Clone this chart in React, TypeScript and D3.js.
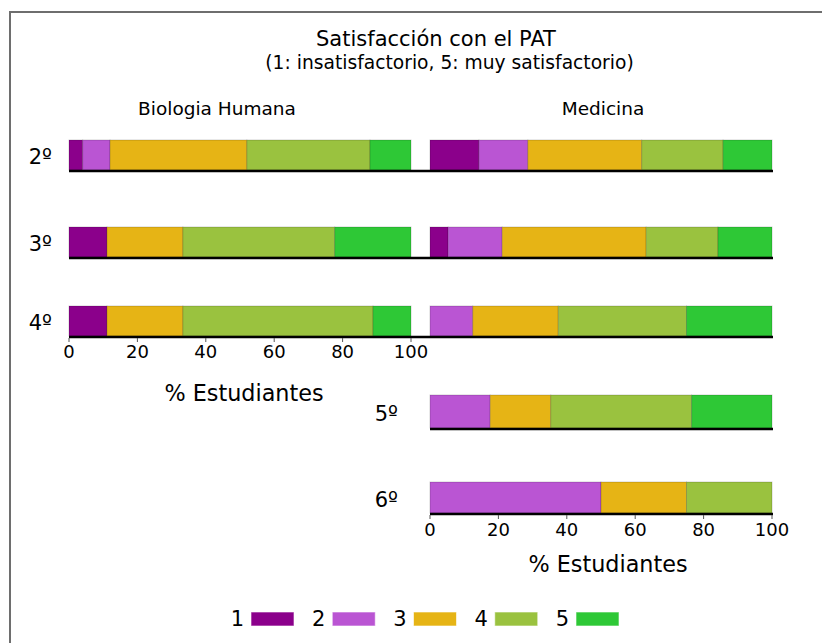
import React from "react";
import * as d3 from "d3";

const levels = ["1", "2", "3", "4", "5"];
const colors = ["#8b008b", "#ba55d3", "#e6b415", "#9ac23f", "#2ec836"];

const bioRows = ["2º", "3º", "4º"];
const bio2 = [4, 8, 40, 36, 12];
const bio3 = [11.1, 0, 22.2, 44.4, 22.3];
const bio4 = [11.1, 0, 22.2, 55.6, 11.1];

const medRows = ["2º", "3º", "4º", "5º", "6º"];
const med2 = [14.3, 14.3, 33.3, 23.8, 14.3];
const med3 = [5.3, 15.8, 42.1, 21.0, 15.8];
const med4 = [0, 12.5, 25, 37.5, 25];
const med5 = [0, 17.6, 17.7, 41.2, 23.5];
const med6 = [0, 50, 25, 25, 0];

const ticks = [0, 20, 40, 60, 80, 100];

const FONT = "DejaVu Sans, sans-serif";

function stackRow(vals: number[]) {
  let acc = 0;
  return vals.map((v, i) => {
    const s = { i, x0: acc, x1: acc + v };
    acc += v;
    return s;
  });
}

export default function App() {
  const xL = d3.scaleLinear().domain([0, 100]).range([69, 411]);
  const xR = d3.scaleLinear().domain([0, 100]).range([430, 772]);
  const rowKeys = ["2º", "3º", "4º", "5º", "6º"];
  const yRow = d3.scaleOrdinal<string, number>().domain(rowKeys).range([140, 227, 306, 395, 482]);
  const hRow = d3.scaleOrdinal<string, number>().domain(rowKeys).range([30, 30, 30, 33, 31]);

  const bioData = [bio2, bio3, bio4];
  const medData = [med2, med3, med4, med5, med6];

  const renderBar = (vals: number[], row: string, x: d3.ScaleLinear<number, number>, key: string) => {
    const y = yRow(row);
    const h = hRow(row);
    return (
      <g key={key}>
        {stackRow(vals).filter(s => s.x1 > s.x0).map(s => (
          <rect key={s.i} x={x(s.x0)} y={y} width={x(s.x1) - x(s.x0)} height={h}
            fill={colors[s.i]} stroke="#000" strokeOpacity={0.18} strokeWidth={1} />
        ))}
      </g>
    );
  };

  const legendX = d3.scaleLinear().domain([0, 4]).range([251, 576]);
  const base = (r: string) => yRow(r) + hRow(r) + 1;

  return (
    <div style={{ position: "absolute", left: 0, top: 0 }}>
      <svg width={822} height={643} style={{ display: "block" }} fontFamily={FONT}>
        <rect x={0} y={0} width={822} height={643} fill="#fff" />
        <rect x={10} y={12} width={900} height={900} fill="#fff" stroke="#6e6e6e" strokeWidth={2} />

        <text x={436} y={46} textAnchor="middle" fontSize={21} fill="#000">Satisfacción con el PAT</text>
        <text x={449.5} y={69} textAnchor="middle" fontSize={18.7} fill="#000">(1: insatisfactorio, 5: muy satisfactorio)</text>

        <text x={217} y={115} textAnchor="middle" fontSize={18.5} fill="#000">Biologia Humana</text>
        <text x={603} y={115} textAnchor="middle" fontSize={18.5} fill="#000">Medicina</text>

        {bioRows.map((r, i) => renderBar(bioData[i], r, xL, "b" + r))}
        {medRows.map((r, i) => renderBar(medData[i], r, xR, "m" + r))}

        {bioRows.map(r => (
          <line key={"lb" + r} x1={xL(0)} x2={xR(100) + 1} y1={base(r)} y2={base(r)} stroke="#000" strokeWidth={2.5} />
        ))}
        {["5º", "6º"].map(r => (
          <line key={"lm" + r} x1={xR(0)} x2={xR(100) + 1} y1={base(r)} y2={base(r)} stroke="#000" strokeWidth={2.5} />
        ))}

        {bioRows.map(r => (
          <text key={"rl" + r} x={52} y={yRow(r) + hRow(r) / 2 + 9} textAnchor="end" fontSize={21} fill="#000">{r}</text>
        ))}
        {["5º", "6º"].map(r => (
          <text key={"rr" + r} x={398} y={yRow(r) + hRow(r) / 2 + 9} textAnchor="end" fontSize={21} fill="#000">{r}</text>
        ))}

        {ticks.map(t => (
          <g key={"tl" + t}>
            <line x1={xL(t)} x2={xL(t)} y1={base("4º") + 1} y2={base("4º") + 5} stroke="#555" strokeWidth={1} />
            <text x={xL(t)} y={358} textAnchor="middle" fontSize={18} fill="#000">{t}</text>
          </g>
        ))}
        <text x={244} y={401} textAnchor="middle" fontSize={22.3} fill="#000">% Estudiantes</text>

        {ticks.map(t => (
          <g key={"tr" + t}>
            <line x1={xR(t)} x2={xR(t)} y1={base("6º") + 1} y2={base("6º") + 5} stroke="#555" strokeWidth={1} />
            <text x={xR(t)} y={536} textAnchor="middle" fontSize={18} fill="#000">{t}</text>
          </g>
        ))}
        <text x={608} y={572} textAnchor="middle" fontSize={22.3} fill="#000">% Estudiantes</text>

        {levels.map((l, i) => (
          <g key={"lg" + l}>
            <text x={legendX(i) - 7} y={626} textAnchor="end" fontSize={21} fill="#000">{l}</text>
            <rect x={legendX(i)} y={612} width={43} height={14} fill={colors[i]} stroke="#fff" strokeOpacity={0.6} strokeWidth={1} />
          </g>
        ))}
      </svg>
    </div>
  );
}
